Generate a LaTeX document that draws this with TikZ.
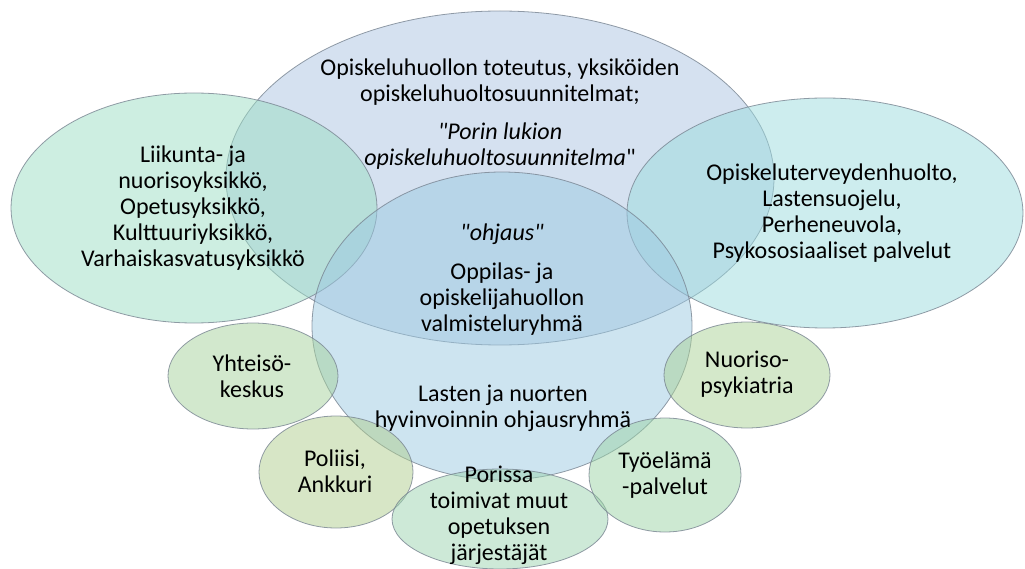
\documentclass[tikz,border=0pt]{standalone}
\usepackage{fontspec}
\setmainfont{Carlito}[Ligatures=TeXOff]
\usetikzlibrary{shapes.geometric}

\definecolor{tophue}{RGB}{171,195,225}
\definecolor{midhue}{RGB}{155,201,225}
\definecolor{lefthue}{RGB}{155,221,195}
\definecolor{righthue}{RGB}{155,219,221}
\definecolor{yhthue}{RGB}{165,209,155}
\definecolor{polhue}{RGB}{175,205,141}
\definecolor{porhue}{RGB}{155,211,175}
\definecolor{tyohue}{RGB}{155,211,165}
\definecolor{nuohue}{RGB}{169,209,149}
\definecolor{rimgray}{RGB}{120,132,145}

\begin{document}
\begin{tikzpicture}[x=1pt, y=-1pt,
    venn/.style={draw=rimgray, line width=0.8pt, draw opacity=0.8, fill opacity=0.5, ellipse, inner sep=0pt, outer sep=0pt},
    lbl/.style={align=center, inner sep=0pt, font=\fontsize{24}{26}\selectfont}]
        \useasboundingbox (0,0) rectangle (1025,569);

        % the big circles
        \node[venn, fill=tophue, minimum width=548, minimum height=334] (toteutus) at (500,178) {};
        \node[venn, fill=lefthue, minimum width=366, minimum height=230] (yksikot) at (194,208) {};
        \node[venn, fill=righthue, minimum width=396, minimum height=230] (palvelut) at (825,213) {};
        \node[venn, fill=midhue, minimum width=380, minimum height=308] (ohjaus) at (502,326) {};

        % the small partners
        \node[venn, fill=yhthue, minimum width=170, minimum height=106] (yhteiso) at (253,376) {};
        \node[venn, fill=polhue, minimum width=154, minimum height=112] (poliisi) at (336,472) {};
        \node[venn, fill=porhue, minimum width=216, minimum height=100] (porissa) at (500,519) {};
        \node[venn, fill=tyohue, minimum width=152, minimum height=114] (tyoelama) at (665,475) {};
        \node[venn, fill=nuohue, minimum width=166, minimum height=106] (nuoriso) at (747,375) {};

        % texts
        \node[lbl] (toteutusA) at (500,82) {Opiskeluhuollon toteutus, yksiköiden\\opiskeluhuoltosuunnitelmat;};
        \node[lbl] (toteutusB) at (500,146) {\textit{"Porin lukion}\\\textit{opiskeluhuoltosuunnitelma}"};
        \node[lbl] (yksikotT) at (193,208) {Liikunta- ja\\nuorisoyksikkö,\\Opetusyksikkö,\\Kulttuuriyksikkö,\\Varhaiskasvatusyksikkö};
        \node[lbl] (palvelutT) at (832,213) {Opiskeluterveydenhuolto,\\Lastensuojelu,\\Perheneuvola,\\Psykososiaaliset palvelut};
        \node[lbl] (ohjausA) at (502,234) {\textit{"ohjaus"}};
        \node[lbl] (ohjausB) at (502,299) {Oppilas- ja\\opiskelijahuollon\\valmisteluryhmä};
        \node[lbl] (ohjausC) at (503,408) {Lasten ja nuorten\\hyvinvoinnin ohjausryhmä};
        \node[lbl] (yhteisoT) at (252,376) {Yhteisö-\\keskus};
        \node[lbl] (poliisiT) at (335,471) {Poliisi,\\Ankkuri};
        \node[lbl] (porissaT) at (499,515) {Porissa\\toimivat muut\\opetuksen\\järjestäjät};
        \node[lbl] (tyoelamaT) at (665,475) {Työelämä\\-palvelut};
        \node[lbl] (nuorisoT) at (747,374) {Nuoriso-\\psykiatria};
\end{tikzpicture}
\end{document}
